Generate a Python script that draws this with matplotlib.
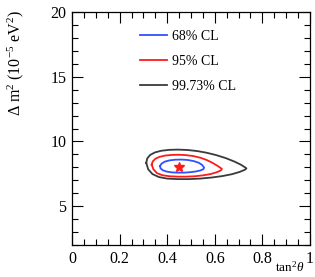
import matplotlib
matplotlib.use("Agg")
import matplotlib.pyplot as plt
from matplotlib.ticker import MultipleLocator

plt.rcParams['font.family'] = ['Liberation Serif', 'DejaVu Serif']
plt.rcParams['mathtext.fontset'] = 'custom'
plt.rcParams['mathtext.rm'] = 'Liberation Serif'
plt.rcParams['mathtext.it'] = 'Liberation Serif:italic'

# contour vertices (tan^2 theta, dm2 in 1e-5 eV^2)
cl68_x = [0.370, 0.376, 0.390, 0.410, 0.435, 0.460, 0.485, 0.510, 0.532, 0.547, 0.555, 0.552, 0.540, 0.520, 0.495, 0.470, 0.445, 0.420, 0.398, 0.382, 0.372, 0.370]
cl68_y = [8.10, 8.28, 8.44, 8.54, 8.59, 8.60, 8.57, 8.49, 8.36, 8.18, 7.98, 7.86, 7.76, 7.68, 7.62, 7.59, 7.59, 7.61, 7.67, 7.77, 7.92, 8.10]

cl95_x = [0.335, 0.339, 0.350, 0.368, 0.392, 0.420, 0.450, 0.480, 0.510, 0.540, 0.567, 0.590, 0.610, 0.624, 0.630, 0.625, 0.608, 0.582, 0.550, 0.515, 0.480, 0.445, 0.410, 0.380, 0.357, 0.342, 0.335]
cl95_y = [8.20, 8.45, 8.66, 8.81, 8.91, 8.96, 8.97, 8.94, 8.87, 8.74, 8.56, 8.35, 8.13, 7.96, 7.87, 7.76, 7.62, 7.48, 7.38, 7.31, 7.28, 7.28, 7.31, 7.39, 7.55, 7.85, 8.20]

cl997_x = [0.312, 0.316, 0.328, 0.348, 0.375, 0.408, 0.445, 0.485, 0.525, 0.565, 0.605, 0.645, 0.682, 0.710, 0.727, 0.733, 0.727, 0.705, 0.672, 0.630, 0.585, 0.538, 0.490, 0.445, 0.400, 0.365, 0.338, 0.320, 0.312]
cl997_y = [8.35, 8.68, 8.95, 9.15, 9.28, 9.35, 9.37, 9.34, 9.26, 9.13, 8.95, 8.72, 8.45, 8.20, 8.00, 7.92, 7.82, 7.65, 7.47, 7.32, 7.21, 7.13, 7.09, 7.09, 7.13, 7.25, 7.48, 7.85, 8.35]

best_fit_x = [0.45]
best_fit_y = [8.0]

labels = ['68% CL', '95% CL', '99.73% CL']
colors = ['#3050ff', '#ff1a1a', '#3a3a3a']

fig = plt.figure(figsize=(3.15, 2.77), dpi=100)
ax = fig.add_axes([0.2286, 0.1155, 0.7555, 0.8412])

ax.plot(cl68_x, cl68_y, color=colors[0], lw=1.3, label=labels[0])
ax.plot(cl95_x, cl95_y, color=colors[1], lw=1.3, label=labels[1])
ax.plot(cl997_x, cl997_y, color=colors[2], lw=1.3, label=labels[2])
ax.plot(best_fit_x, best_fit_y, marker='*', color='#ff1a1a', ms=7, ls='none')

ax.set_xlim(0, 1)
ax.set_ylim(2, 20)
ax.xaxis.set_minor_locator(MultipleLocator(0.05))
ax.yaxis.set_major_locator(MultipleLocator(5))
ax.yaxis.set_minor_locator(MultipleLocator(1))
ax.set_xticks([0, 0.2, 0.4, 0.6, 0.8, 1.0])
ax.set_xticklabels(['0', '0.2', '0.4', '0.6', '0.8', '1'])
ax.tick_params(which='both', direction='in', top=True, right=True, labelsize=11.5, pad=4)
ax.tick_params(which='major', length=8, width=0.8)
ax.tick_params(which='minor', length=4, width=0.8)
for s in ax.spines.values():
    s.set_linewidth(0.9)

ax.set_ylabel(r'$\Delta\ \mathrm{m}^{2}\ (10^{-5}\ \mathrm{eV}^{2})$', fontsize=11.5)
ax.yaxis.set_label_coords(-0.195, 0.78)
ax.set_xlabel(r'$\mathrm{tan}^{2}\theta$', fontsize=9.5)
ax.xaxis.set_label_coords(0.975, -0.128)
ax.xaxis.label.set_horizontalalignment('right')
ax.xaxis.label.set_verticalalignment('bottom')

ax.legend(loc='upper left', bbox_to_anchor=(0.235, 0.975), frameon=False, fontsize=10,
          handlelength=1.9, handletextpad=0.4, labelspacing=0.85)

fig.savefig('out.png', dpi=100)
